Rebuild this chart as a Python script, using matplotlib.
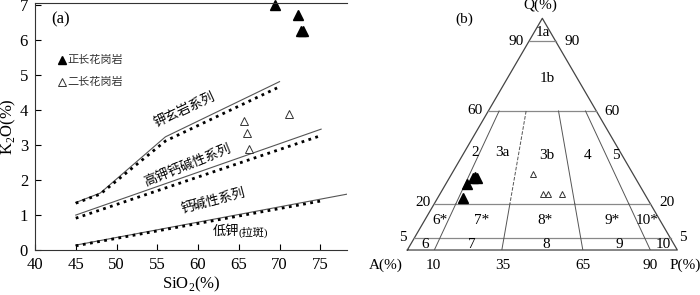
import matplotlib
matplotlib.use('Agg')
import matplotlib.pyplot as plt

plt.rcParams['font.family'] = ['Liberation Serif', 'Noto Sans CJK SC']
plt.rcParams['mathtext.fontset'] = 'custom'
plt.rcParams['mathtext.rm'] = 'Liberation Serif'

# (a) SiO2-K2O diagram
sio2_ticks = [40, 45, 50, 55, 60, 65, 70, 75]
k2o_ticks = [0, 1, 2, 3, 4, 5, 6, 7]

sho_x = [45, 48, 56, 70]
sho_y = [1.36, 1.63, 3.24, 4.82]
sho_dot_x = [45, 48, 56, 69.7]
sho_dot_y = [1.34, 1.60, 3.12, 4.64]

hk_x = [45, 75.1]
hk_y = [1.0, 3.46]
hk_dot_x = [45, 75]
hk_dot_y = [0.91, 3.27]

ca_x = [45, 78.3]
ca_y = [0.14, 1.6]
ca_dot_x = [45, 75]
ca_dot_y = [0.12, 1.4]

syeno_sio2 = [69.5, 72.3, 72.6, 72.9]
syeno_k2o = [7.0, 6.74, 6.28, 6.28]
monzo_sio2 = [65.7, 66.0, 66.2, 71.2]
monzo_k2o = [3.68, 3.34, 2.90, 3.88]

# (b) QAP diagram (Q, P in %)
syeno_q = [30.9, 30.9, 31.6, 28.5, 22.3]
syeno_p = [9.0, 10.3, 9.3, 7.75, 9.55]
monzo_q = [32.7, 24.0, 24.0, 24.0]
monzo_p = [30.05, 38.1, 40.0, 45.4]

q_levels = [90, 60, 20, 5]
ratio_levels = [0.10, 0.35, 0.65, 0.90]

fig = plt.figure(figsize=(7, 2.95), dpi=100)

ax = fig.add_axes([0.05, 0.1525, 0.446, 0.836])
dot = (0, (1, 1.6))
for x, y, dx, dy in [(sho_x, sho_y, sho_dot_x, sho_dot_y),
                     (hk_x, hk_y, hk_dot_x, hk_dot_y),
                     (ca_x, ca_y, ca_dot_x, ca_dot_y)]:
    ax.plot(x, y, color='#555555', lw=0.8)
    ax.plot(dx, dy, color='black', lw=2.0, linestyle=dot)

ax.plot(syeno_sio2, syeno_k2o, '^', color='black', ms=7.5, clip_on=False)
ax.plot(monzo_sio2, monzo_k2o, '^', mfc='white', mec='#333333', mew=0.7, ms=5.5)

ax.plot([43.3], [5.44], '^', color='black', ms=6)
ax.text(44.0, 5.44, '正长花岗岩', fontsize=8, va='center', color='#333333')
ax.plot([43.3], [4.81], '^', mfc='white', mec='#333333', mew=0.7, ms=5.5)
ax.text(44.0, 4.81, '二长花岗岩', fontsize=8, va='center', color='#333333')

ax.text(42.0, 6.6, '(a)', fontsize=12, va='center')
ax.text(58.3, 4.01, '钾玄岩系列', fontsize=9.5, rotation=25, ha='center', va='center', rotation_mode='anchor')
ax.text(58.7, 2.41, '高钾钙碱性系列', fontsize=9.5, rotation=22, ha='center', va='center', rotation_mode='anchor')
ax.text(61.9, 1.40, '钙碱性系列', fontsize=9.5, rotation=15, ha='center', va='center', rotation_mode='anchor')
ax.text(65.0, 0.52, '低钾', fontsize=9.5, ha='right', va='center')
ax.text(65.0, 0.50, '(拉斑)', fontsize=8, ha='left', va='center')

ax.set_xlim(40, 78.3)
ax.set_ylim(0, 7.06)
ax.set_xticks(sio2_ticks)
ax.set_yticks(k2o_ticks)
ax.tick_params(direction='in', labelsize=12, length=4, width=0.8)
ax.tick_params(axis='x', pad=5)
ax.tick_params(axis='y', pad=5)
ax.spines['right'].set_visible(False)
for s in ['left', 'bottom', 'top']:
    ax.spines[s].set_color('#333333')
ax.set_xlabel('SiO$_\\mathregular{2}$(%)', fontsize=12, labelpad=1)
ax.set_ylabel('K$_\\mathregular{2}$O(%)', fontsize=12, labelpad=1)

# (b) ternary
bx = fig.add_axes([0.5819, 0.1525, 0.3857, 0.7854])
bx.set_xlim(0, 100)
bx.set_ylim(0, 100)
bx.axis('off')


def tern(q, p):
    return p + q / 2.0, q


bx.plot([0, 50, 100, 0], [0, 100, 0, 0], color='#444444', lw=0.9, clip_on=False)
for q in q_levels:
    bx.plot([q / 2, 100 - q / 2], [q, q], color='#888888', lw=0.9)
for r in ratio_levels:
    x60, y60 = tern(60, 40 * r)
    x20, y20 = tern(20, 80 * r)
    x0, y0 = tern(0, 100 * r)
    style = '--' if r == 0.35 else '-'
    bx.plot([x60, x20], [y60, y20], color='#555555', lw=0.7, linestyle=style)
    bx.plot([x20, x0], [y20, y0], color='#555555', lw=0.7)

sx = [tern(q, p)[0] for q, p in zip(syeno_q, syeno_p)]
bx.plot(sx, syeno_q, '^', color='black', ms=7)
mx = [tern(q, p)[0] for q, p in zip(monzo_q, monzo_p)]
bx.plot(mx, monzo_q, '^', mfc='white', mec='#333333', mew=0.7, ms=5)

labels = [('Q(%)', 49.1, 105.5), ('(b)', 21.0, 99.7),
          ('90', 40.3, 89.8), ('90', 61.0, 89.8),
          ('60', 25.1, 60.4), ('60', 75.8, 59.6),
          ('20', 5.8, 20.7), ('20', 96.2, 20.7),
          ('5', -1.8, 5.6), ('5', 101.9, 5.6),
          ('A(%)', -8.0, -6.5), ('10', 9.5, -6.5), ('35', 35.4, -6.5),
          ('65', 65.1, -6.5), ('90', 89.9, -6.5), ('P(%)', 102.8, -6.5),
          ('1a', 50.2, 93.7), ('1b', 51.7, 74.2),
          ('2', 25.1, 41.9), ('3a', 35.1, 41.9), ('3b', 51.7, 41.0),
          ('4', 66.9, 41.0), ('5', 77.3, 41.0),
          ('6*', 12.1, 12.9), ('7*', 27.7, 12.9), ('8*', 51.0, 12.9),
          ('9*', 75.8, 12.9), ('10*', 88.8, 12.9),
          ('6', 6.6, 2.2), ('7', 24.0, 2.2), ('8', 51.4, 2.2),
          ('9', 78.4, 2.2), ('10', 94.7, 2.2)]
for t, x, y in labels:
    bx.text(x, y, t, fontsize=11, ha='center', va='center', clip_on=False)

fig.savefig('out.png', dpi=100)
